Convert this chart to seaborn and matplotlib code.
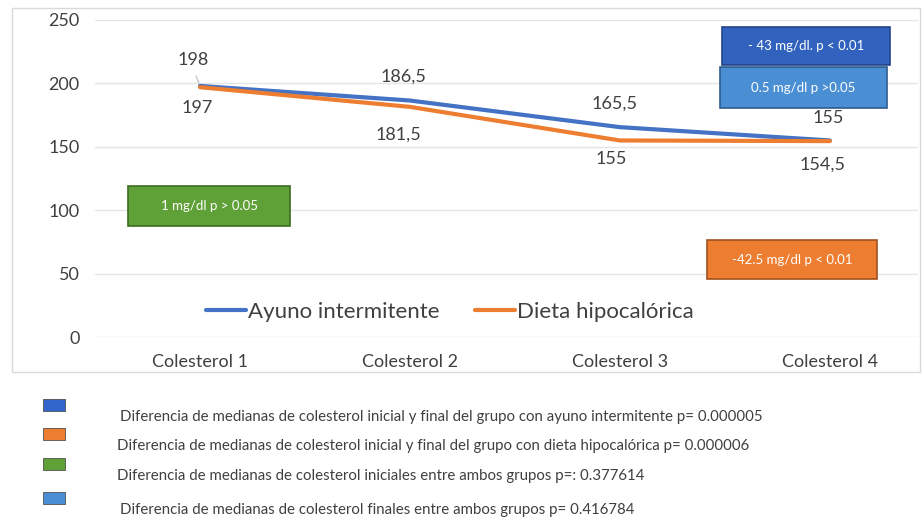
import matplotlib
matplotlib.use("Agg")
import matplotlib.pyplot as plt
from matplotlib.patches import Rectangle
import seaborn as sns
import pandas as pd

categorias = ["Colesterol 1", "Colesterol 2", "Colesterol 3", "Colesterol 4"]
ayuno = [198, 186.5, 165.5, 155]
dieta = [197, 181.5, 155, 154.5]
series = ["Ayuno intermitente", "Dieta hipocalórica"]
colores = ["#4472C4", "#ED7D31"]

notas = [
    "Diferencia de medianas de colesterol inicial y final del grupo con ayuno intermitente p= 0.000005",
    "Diferencia de medianas de colesterol inicial y final del grupo con dieta hipocalórica p= 0.000006",
    "Diferencia de medianas de colesterol iniciales entre ambos grupos p=: 0.377614",
    "Diferencia de medianas de colesterol finales entre ambos grupos p= 0.416784",
]
colores_notas = ["#3366CC", "#ED7D31", "#5FA136", "#4A8FD4"]

df = pd.DataFrame({
    "categoria": categorias * 2,
    "valor": ayuno + dieta,
    "grupo": [series[0]] * 4 + [series[1]] * 4,
})

sns.set_style("white")
plt.rcParams["font.family"] = ["Lato", "DejaVu Sans"]

fig = plt.figure(figsize=(9.22, 5.19), dpi=100)
W, H = 922, 519

# chart frame
fig.patches.append(Rectangle((12 / W, 1 - 372 / H), 908 / W, 364 / H, transform=fig.transFigure,
                             fill=False, edgecolor="#D9D9D9", linewidth=1))

ax = fig.add_axes([95 / W, 1 - 337 / H, (918 - 95) / W, (337 - 20) / H])
sns.lineplot(data=df, x="categoria", y="valor", hue="grupo", palette=colores,
             linewidth=3, ax=ax, sort=False)
ax.set_xlim(-0.5, 3.42)
ax.set_ylim(0, 250)
ax.set_yticks([0, 50, 100, 150, 200, 250])
ax.grid(axis="y", color="#E5E5E5", linewidth=1)
for s in ax.spines.values():
    s.set_visible(False)
ax.set_xlabel("")
ax.set_ylabel("")
ax.tick_params(axis="y", labelsize=13, labelcolor="#404040", pad=11, length=0)
ax.tick_params(axis="x", labelsize=13, labelcolor="#404040", pad=12, length=0)

fmt = lambda v: (f"{v:g}").replace(".", ",")
# data labels (offsets in points)
off_a = [(-5, 19), (-5, 17), (-4, 17), (-1, 16)]
off_d = [(-2, -15), (-8, -20), (-6, -13), (-5, -17)]
for i in range(4):
    ax.annotate(fmt(ayuno[i]), (i, ayuno[i]), xytext=off_a[i], textcoords="offset points",
                ha="center", va="center", fontsize=13, color="#404040")
    ax.annotate(fmt(dieta[i]), (i, dieta[i]), xytext=off_d[i], textcoords="offset points",
                ha="center", va="center", fontsize=13, color="#404040")
# little leader line under the first label
ax.annotate("", (0, ayuno[0]), xytext=(-3.5, 9), textcoords="offset points",
            arrowprops=dict(arrowstyle="-", color="#C8C8C8", lw=1))

leg = ax.legend(loc="center", bbox_to_anchor=(0.4315, 0.079), ncol=2, frameon=False,
                fontsize=16, handlelength=1.8, handletextpad=0.1, columnspacing=1.6)
for t in leg.get_texts():
    t.set_color("#404040")


def caja(x0, y0, x1, y1, color, borde, texto):
    fig.patches.append(Rectangle((x0 / W, 1 - y1 / H), (x1 - x0) / W, (y1 - y0) / H,
                                 transform=fig.transFigure, facecolor=color,
                                 edgecolor=borde, linewidth=1.2))
    fig.text((x0 + x1) / 2 / W, 1 - (y0 + y1) / 2 / H, texto, ha="center", va="center",
             fontsize=9.5, color="white")


caja(128, 186, 290, 226, "#5FA136", "#3D6B23", "1 mg/dl p > 0.05")
caja(707, 240, 877, 279, "#ED7D31", "#A0521E", "-42.5 mg/dl p < 0.01")
caja(722, 27, 890, 65, "#3162BE", "#23468A", "- 43 mg/dl. p < 0.01")
caja(720, 67, 887, 108, "#4A8FD4", "#2D5C8E", "0.5 mg/dl p >0.05")

# notes below the chart
ys = [412, 441, 471, 505]
xs = [120, 117, 117, 120]
for y, x, c, t in zip(ys, xs, colores_notas, notas):
    fig.patches.append(Rectangle((43 / W, 1 - (y - 1) / H), 22 / W, 12 / H,
                                 transform=fig.transFigure, facecolor=c,
                                 edgecolor="#505050", linewidth=0.6))
    fig.text(x / W, 1 - (y + 5) / H, t, ha="left", va="center", fontsize=10.8, color="#404040")

fig.savefig("out.png", dpi=100)
